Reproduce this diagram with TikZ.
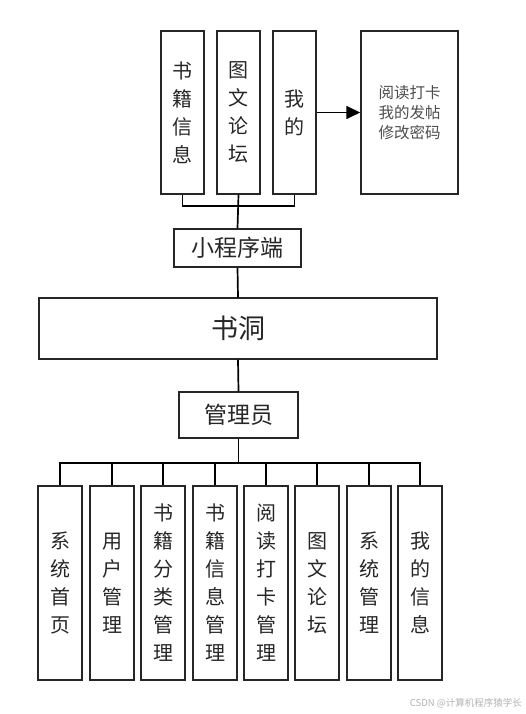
\documentclass[tikz,border=0pt]{standalone}
\usepackage{fontspec}
\setmainfont{Noto Sans CJK SC}
\usetikzlibrary{arrows.meta}
\tikzset{
  box/.style={draw=black!85, line width=1.5pt, inner sep=0pt, align=center, font=\fontsize{20}{28}\selectfont, text=black!85},
  tallbox/.style={box, minimum width=43pt, minimum height=163pt},
  admbox/.style={box, minimum width=44pt, minimum height=194pt},
  wire/.style={draw=black, line width=1.7pt},
}
\begin{document}
\begin{tikzpicture}[x=1pt,y=-1pt]
\useasboundingbox (0,0) rectangle (525,714);
% top client boxes
\node[tallbox] (b1) at (182.5,112.5) {书\\籍\\信\\息};
\node[tallbox] (b2) at (238.5,112.5) {图\\文\\论\\坛};
\node[tallbox] (b3) at (294.5,112.5) {我\\的};
\node[box, minimum width=97pt, minimum height=163pt, font=\fontsize{15.5}{20}\selectfont, text=black!70] (b4) at (409.5,112.5) {阅读打卡\\我的发帖\\修改密码};
\draw[wire, -{Triangle[length=14pt,width=13pt]}] (b3.east) -- (b4.west);
% mini program
\node[box, minimum width=127pt, minimum height=38pt, font=\fontsize{23}{28}\selectfont] (app) at (237.5,248) {小程序端};
\draw[wire] (b1.south) -- ++(0,11) -| (b3.south);
\draw[wire] (b2.south) -- (app.north);
% system
\node[box, minimum width=398pt, minimum height=61pt, font=\fontsize{27}{32}\selectfont] (sys) at (238,328.5) {书洞};
\draw[wire] (app.south) -- (sys.north);
% admin
\node[box, minimum width=119pt, minimum height=46pt, font=\fontsize{23}{28}\selectfont] (adm) at (238.5,415) {管理员};
\draw[wire] (sys.south) -- (adm.north);
\coordinate (bus) at (238.5,463);
\draw[wire] (adm.south) -- (bus);
% admin modules
\node[admbox] (m1) at (60,583) {系\\统\\首\\页};
\node[admbox] (m2) at (112,583) {用\\户\\管\\理};
\node[admbox] (m3) at (163,583) {书\\籍\\分\\类\\管\\理};
\node[admbox] (m4) at (215,583) {书\\籍\\信\\息\\管\\理};
\node[admbox] (m5) at (266,583) {阅\\读\\打\\卡\\管\\理};
\node[admbox] (m6) at (317,583) {图\\文\\论\\坛};
\node[admbox] (m7) at (369,583) {系\\统\\管\\理};
\node[admbox] (m8) at (420,583) {我\\的\\信\\息};
\foreach \i in {1,...,8} {\draw[wire] (bus) -| (m\i.north);}
% watermark
\node[anchor=east, font=\fontsize{9.5}{10}\selectfont, text=black!30, inner sep=0pt] (wm) at (522,703) {CSDN @计算机程序猿学长};
\end{tikzpicture}
\end{document}
